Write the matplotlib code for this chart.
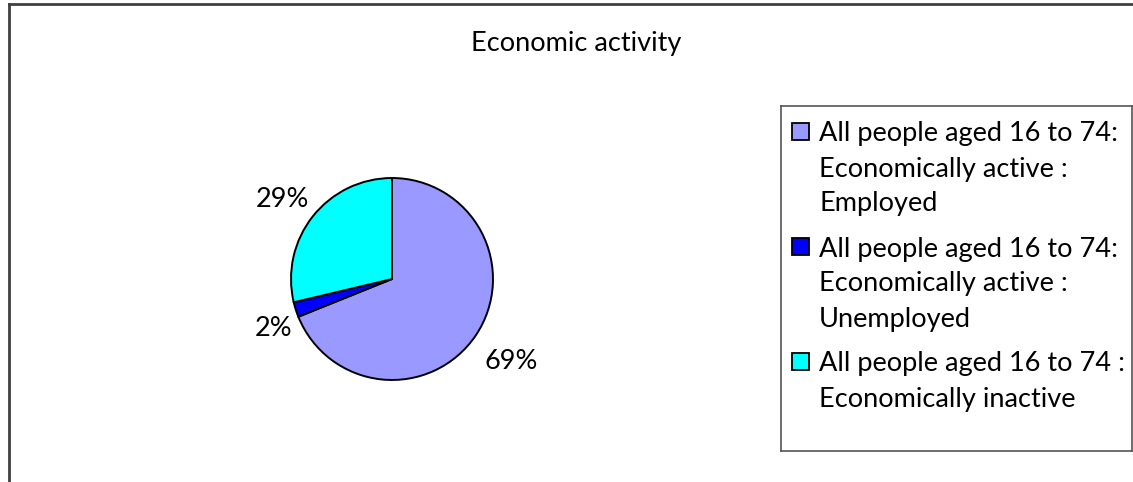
import numpy as np
import matplotlib
matplotlib.use("Agg")
import matplotlib.pyplot as plt
from matplotlib.patches import Rectangle
from matplotlib.lines import Line2D

plt.rcParams['font.family'] = ['Lato', 'DejaVu Sans']

title = "Economic activity"
categories = [
    "All people aged 16 to 74:\nEconomically active :\nEmployed",
    "All people aged 16 to 74:\nEconomically active :\nUnemployed",
    "All people aged 16 to 74 :\nEconomically inactive",
]
shares = [68.9, 2.4, 28.7]
colors = ["#9999FF", "#0000FF", "#00FFFF"]

W, H = 1133, 482
FS = 19.5
fig = plt.figure(figsize=(W / 100, H / 100), dpi=100)


def px_box(x0, y0, x1, y1):
    # pixel box (top-left origin) -> figure fraction rect
    return [x0 / W, 1 - y1 / H, (x1 - x0) / W, (y1 - y0) / H]


# chart frame (only top and left edges fall inside the image)
fig.add_artist(Line2D([8.5 / W, 1.01], [1 - 3.5 / H, 1 - 3.5 / H],
                      transform=fig.transFigure, color="#404040", lw=2))
fig.add_artist(Line2D([8.5 / W, 8.5 / W], [1 - 3.5 / H, -0.01],
                      transform=fig.transFigure, color="#404040", lw=2))

fig.text(576 / W, 1 - 43 / H, title, ha="center", va="center", fontsize=FS)

# pie
ax = fig.add_axes(px_box(289, 176, 495, 382))
wedges, texts, autotexts = ax.pie(
    shares, colors=colors, startangle=90, counterclock=False,
    autopct=lambda p: f"{p:.0f}%",
    wedgeprops=dict(edgecolor="black", linewidth=1.4),
    textprops=dict(fontsize=FS),
)
# push each percentage label out along its wedge's mid angle
label_dist = [1.42, 1.26, 1.36]
label_turn = [0, 4, 1.5]
for w, t, r, d in zip(wedges, autotexts, label_dist, label_turn):
    ang = np.deg2rad((w.theta1 + w.theta2) / 2 + d)
    t.set_position((r * np.cos(ang), r * np.sin(ang)))
    t.set_ha("center")
    t.set_va("center_baseline")
ax.set_xlim(-1.02, 1.02)
ax.set_ylim(-1.02, 1.02)
ax.set_aspect("equal")
ax.axis("off")

# legend box
lax = fig.add_axes(px_box(781, 106, 1132, 451))
lax.set_xlim(0, 351)
lax.set_ylim(345, 0)
lax.set_xticks([])
lax.set_yticks([])
for s in lax.spines.values():
    s.set_color("#555555")
    s.set_linewidth(1.2)

for i, (label, c) in enumerate(zip(categories, colors)):
    top = 15.5 + i * 115
    lax.add_patch(Rectangle((11, top + 1), 17, 17, facecolor=c,
                            edgecolor="black", linewidth=1.3))
    lax.text(38, top, label, ha="left", va="top", fontsize=FS,
             linespacing=1.5)

fig.savefig("out.png", dpi=100)
